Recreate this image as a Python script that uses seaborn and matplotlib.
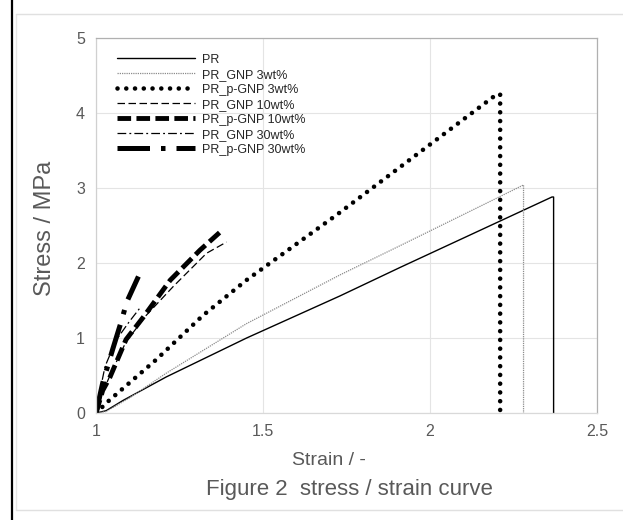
import pandas as pd
import seaborn as sns
import matplotlib.pyplot as plt
from matplotlib.lines import Line2D

# stress / strain readings (strain, stress in MPa)
pr_strain = [1.0, 1.03, 1.082, 1.21, 1.451, 1.73, 1.91, 2.365, 2.37, 2.37]
pr_stress = [0.0, 0.03, 0.17, 0.48, 1.00, 1.56, 1.94, 2.88, 2.88, 0.0]

gnp3_strain = [1.0, 1.03, 1.10, 1.21, 1.45, 1.73, 1.91, 2.275, 2.28, 2.28]
gnp3_stress = [0.0, 0.02, 0.20, 0.53, 1.19, 1.84, 2.23, 3.03, 3.04, 0.0]

pgnp3_strain = [1.0, 1.04, 1.18, 1.32, 1.45, 1.72, 2.0, 2.2, 2.21, 2.21]
pgnp3_stress = [0.0, 0.17, 0.71, 1.30, 1.77, 2.64, 3.58, 4.25, 4.25, 0.0]

gnp10_strain = [1.0, 1.02, 1.05, 1.09, 1.15, 1.232, 1.331, 1.391]
gnp10_stress = [0.0, 0.28, 0.58, 0.95, 1.30, 1.69, 2.13, 2.28]

pgnp10_strain = [1.0, 1.02, 1.042, 1.09, 1.142, 1.222, 1.311, 1.376]
pgnp10_stress = [0.0, 0.30, 0.48, 0.98, 1.28, 1.77, 2.17, 2.43]

gnp30_strain = [1.0, 1.01, 1.027, 1.06, 1.10, 1.135]
gnp30_stress = [0.0, 0.25, 0.62, 0.97, 1.22, 1.42]

pgnp30_strain = [1.0, 1.02, 1.05, 1.077, 1.092, 1.127]
pgnp30_stress = [0.0, 0.40, 0.85, 1.24, 1.48, 1.82]

labels = ["PR", "PR_GNP 3wt%", "PR_p-GNP 3wt%", "PR_GNP 10wt%",
          "PR_p-GNP 10wt%", "PR_GNP 30wt%", "PR_p-GNP 30wt%"]
strains = [pr_strain, gnp3_strain, pgnp3_strain, gnp10_strain,
           pgnp10_strain, gnp30_strain, pgnp30_strain]
stresses = [pr_stress, gnp3_stress, pgnp3_stress, gnp10_stress,
            pgnp10_stress, gnp30_stress, pgnp30_stress]

styles = [
    dict(color="black", lw=1.0, ls="-"),
    dict(color="#8c8c8c", lw=0.9, ls=(0, (1, 0.8))),
    dict(color="black", lw=3.3, ls=(0, (0.01, 1.9)), dash_capstyle="round"),
    dict(color="black", lw=0.9, ls=(0, (6, 2.8))),
    dict(color="black", lw=3.5, ls=(0, (2.8, 1.1))),
    dict(color="black", lw=0.9, ls=(0, (7, 2.5, 1.5, 2.5))),
    dict(color="black", lw=3.6, ls=(0, (6.5, 2.2, 0.9, 2.2))),
]

sns.set_style("white")
plt.rcParams['font.family'] = ['Liberation Sans', 'DejaVu Sans']
grey = "#595959"

fig = plt.figure(figsize=(6.23, 5.2), dpi=100)
ax = fig.add_axes([0.1541, 0.2058, 0.8042, 0.7211])

for lab, xs, ys, st in zip(labels, strains, stresses, styles):
    df = pd.DataFrame({"Strain": xs, "Stress": ys})
    sns.lineplot(data=df, x="Strain", y="Stress", sort=False, estimator=None,
                 ax=ax, color=st["color"], linewidth=st["lw"],
                 linestyle=st["ls"], legend=False,
                 dash_capstyle=st.get("dash_capstyle", "butt"))

ax.set_xlim(1, 2.5)
ax.set_ylim(0, 5)
ax.set_xticks([1, 1.5, 2, 2.5])
ax.set_xticklabels(["1", "1.5", "2", "2.5"])
ax.set_yticks([0, 1, 2, 3, 4, 5])
ax.grid(True, color="#e4e4e4", linewidth=0.8)
ax.tick_params(axis="both", labelsize=11.5, colors=grey, length=0, pad=8)
for s in ax.spines.values():
    s.set_color("#b0b0b0")
    s.set_linewidth(0.9)
ax.spines['left'].set_color("#d0d0d0")
ax.spines['bottom'].set_color("#d9d9d9")

ax.set_xlabel("")
ax.set_ylabel("")
fig.text(0.072, 0.56, "Stress / MPa", rotation=90, fontsize=17, color=grey,
         ha="center", va="center")
fig.text(0.528, 0.115, "Strain / -", fontsize=14, color=grey,
         ha="center", va="center")
fig.text(0.561, 0.0577, "Figure 2  stress / strain curve", fontsize=16,
         color=grey, ha="center", va="center")

handles = [Line2D([], [], color=st["color"], linewidth=st["lw"], linestyle=st["ls"],
                  dash_capstyle=st.get("dash_capstyle", "butt")) for st in styles]
ax.legend(handles, labels, loc="upper left", bbox_to_anchor=(0.022, 0.985),
          frameon=False, fontsize=9, handlelength=6.2, handletextpad=0.6,
          labelspacing=0.24, borderpad=0.3)

# page borders
fig.add_artist(Line2D([0.019, 0.019], [0, 1], color="black", lw=1.6))
fig.add_artist(Line2D([0.026, 0.026], [0.019, 0.973], color="#e6e6e6", lw=1))
fig.add_artist(Line2D([0.026, 1], [0.973, 0.973], color="#e0e0e0", lw=1))
fig.add_artist(Line2D([0.026, 1], [0.019, 0.019], color="#e0e0e0", lw=1))

fig.savefig("out.png", dpi=100)
